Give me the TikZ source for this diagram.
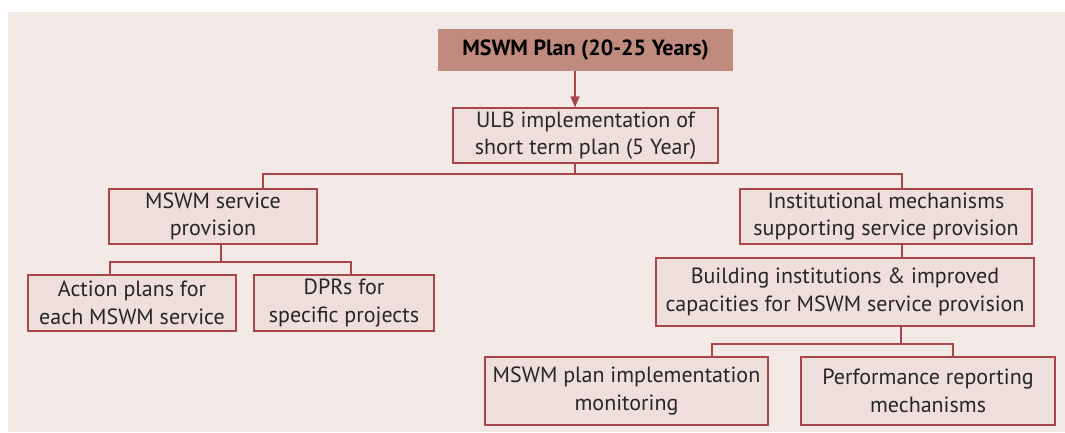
\documentclass[tikz,border=0pt]{standalone}
\usepackage{fontspec}
\setmainfont{PT Sans}
\usetikzlibrary{arrows.meta}
\definecolor{bgc}{HTML}{F3EAE8}
\definecolor{boxfill}{HTML}{EEDFDC}
\definecolor{boxline}{HTML}{A8474A}
\definecolor{titlefill}{HTML}{C08A7E}
\begin{document}
\begin{tikzpicture}[x=1pt,y=-1pt,
  box/.style={draw=boxline, line width=1.3pt, fill=boxfill, align=center, inner sep=0pt,
    font=\fontsize{22}{27.5}\selectfont, text=black!85},
  titlebox/.style={fill=titlefill, align=center, inner sep=0pt,
    font=\bfseries\fontsize{22}{27.5}\selectfont, text=black},
  conn/.style={draw=boxline, line width=1.3pt},
  arr/.style={conn, -{Triangle[length=11pt,width=9pt]}}]
\useasboundingbox (0,0) rectangle (1065,432);
\fill[white] (0,0) rectangle (1065,432);
\fill[bgc] (8,12) rectangle (1065,432);
% nodes
\node[titlebox, minimum width=295, minimum height=42] (title) at (585.5,50) {MSWM Plan (20-25 Years)};
\node[box, minimum width=265, minimum height=55] (ulb) at (585.5,135.5) {ULB implementation of\\short term plan (5 Year)};
\node[box, minimum width=208, minimum height=55] (svc) at (213,216.5) {MSWM service\\provision};
\node[box, minimum width=292, minimum height=55] (inst) at (886,216.5) {Institutional mechanisms\\supporting service provision};
\node[box, minimum width=208, minimum height=56] (act) at (132,303) {Action plans for\\each MSWM service};
\node[box, minimum width=180, minimum height=56] (dpr) at (344,303) {DPRs for\\specific projects};
\node[box, minimum width=378, minimum height=68] (bld) at (845,292) {Building institutions \& improved\\capacities for MSWM service provision};
\node[box, minimum width=283, minimum height=68] (mon) at (626.5,391) {MSWM plan implementation\\monitoring};
\node[box, minimum width=254, minimum height=68] (perf) at (928,391) {Performance reporting\\mechanisms};
% helper coordinates
\coordinate (x575) at (575,0);
\coordinate (x263) at (263,0);
\coordinate (x903) at (902,0);
\coordinate (x221) at (221,0);
\coordinate (x110) at (110,0);
\coordinate (x351) at (351,0);
\coordinate (x901) at (901,0);
\coordinate (x712) at (712,0);
\coordinate (x953) at (953,0);
\coordinate (bus1) at (0,174);
\coordinate (bus2) at (0,262);
\coordinate (bus3) at (0,344);
% connectors
\draw[arr] (title.south -| x575) -- (ulb.north -| x575);
\draw[conn] (ulb.south -| x575) -- (x575 |- bus1);
\draw[conn] (svc.north -| x263) -- (x263 |- bus1) -- (x903 |- bus1) -- (inst.north -| x903);
\draw[conn] (svc.south -| x221) -- (x221 |- bus2);
\draw[conn] (act.north -| x110) -- (x110 |- bus2) -- (x351 |- bus2) -- (dpr.north -| x351);
\draw[conn] (inst.south -| x903) -- (bld.north -| x903);
\draw[conn] (bld.south -| x901) -- (x901 |- bus3);
\draw[conn] (mon.north -| x712) -- (x712 |- bus3) -- (x953 |- bus3) -- (perf.north -| x953);
\end{tikzpicture}
\end{document}
